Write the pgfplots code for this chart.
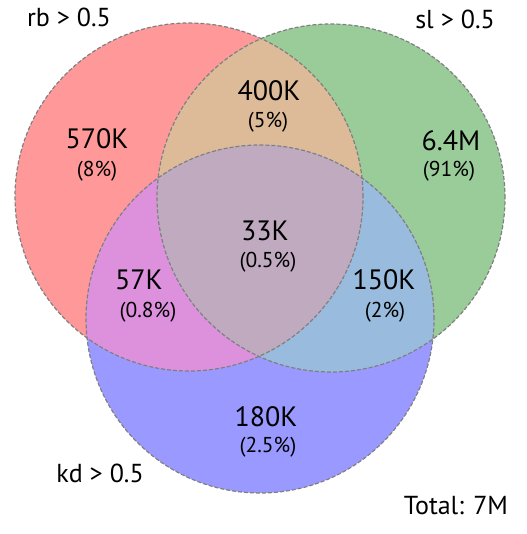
\documentclass[border=0pt]{standalone}
\usepackage{pgfplots}
\usepackage{pgfplotstable}
\pgfplotsset{compat=1.18}
\usepackage{fontspec}
\setmainfont{PT Sans}

\definecolor{cR}{HTML}{FF9999}
\definecolor{cG}{HTML}{99CC99}
\definecolor{cB}{HTML}{9999FF}
\definecolor{cRG}{HTML}{DEBB98}
\definecolor{cRB}{HTML}{DD91DD}
\definecolor{cGB}{HTML}{99BBDD}
\definecolor{cRGB}{HTML}{BFAABF}
\definecolor{edge}{HTML}{808080}

% region counts (big), shares (small) and set names, placed in pixel-like units
\pgfplotstableread[col sep=comma]{
x,y,lab
97,395,570K
269,443,400K
451,393,6.4M
265,303,33K
139,254,57K
384,254,150K
266,117,180K
}\bigtab
\pgfplotstableread[col sep=comma]{
x,y,lab
97,363,(8\%)
268,412,(5\%)
449,363,(91\%)
268,272,(0.5\%)
148,222,(0.8\%)
385,222,(2\%)
268,87,(2.5\%)
}\smalltab
\pgfplotstableread[col sep=comma]{
x,y,lab
69,517,rb > 0.5
455,515,sl > 0.5
100,61,kd > 0.5
456,28,Total: 7M
}\titletab

\tikzset{venn/.style={edge, line width=1.2pt, dash pattern=on 4pt off 2pt}}

\begin{document}
\begin{tikzpicture}
\begin{axis}[
  scale only axis,
  width=526pt, height=534pt,
  xmin=0, xmax=526, ymin=0, ymax=534,
  hide axis, clip=false,
]
\path (rel axis cs:0,0) rectangle (rel axis cs:1,1);
% single sets
\fill[cR] (axis cs:189,337) circle[radius=174];
\fill[cG] (axis cs:331,336) circle[radius=174];
\fill[cB] (axis cs:260,215) circle[radius=174];
% pairwise overlaps
\begin{scope}
  \clip (axis cs:189,337) circle[radius=174];
  \fill[cRG] (axis cs:331,336) circle[radius=174];
  \fill[cRB] (axis cs:260,215) circle[radius=174];
\end{scope}
\begin{scope}
  \clip (axis cs:331,336) circle[radius=174];
  \fill[cGB] (axis cs:260,215) circle[radius=174];
\end{scope}
% triple overlap
\begin{scope}
  \clip (axis cs:189,337) circle[radius=174];
  \clip (axis cs:331,336) circle[radius=174];
  \fill[cRGB] (axis cs:260,215) circle[radius=174];
\end{scope}
% dashed outlines
\draw[venn] (axis cs:189,337) circle[radius=174];
\draw[venn] (axis cs:331,336) circle[radius=174];
\draw[venn] (axis cs:260,215) circle[radius=174];

\addplot[only marks, mark=none, point meta=explicit symbolic,
  nodes near coords={\fontsize{28}{33}\selectfont\pgfplotspointmeta},
  every node near coord/.style={anchor=center, inner sep=0pt}]
  table[x=x, y=y, meta=lab] {\bigtab};
\addplot[only marks, mark=none, point meta=explicit symbolic,
  nodes near coords={\fontsize{21.5}{25}\selectfont\pgfplotspointmeta},
  every node near coord/.style={anchor=center, inner sep=0pt}]
  table[x=x, y=y, meta=lab] {\smalltab};
\addplot[only marks, mark=none, point meta=explicit symbolic,
  nodes near coords={\fontsize{26}{31}\selectfont\pgfplotspointmeta},
  every node near coord/.style={anchor=center, inner sep=0pt}]
  table[x=x, y=y, meta=lab] {\titletab};
\end{axis}
\end{tikzpicture}
\end{document}
